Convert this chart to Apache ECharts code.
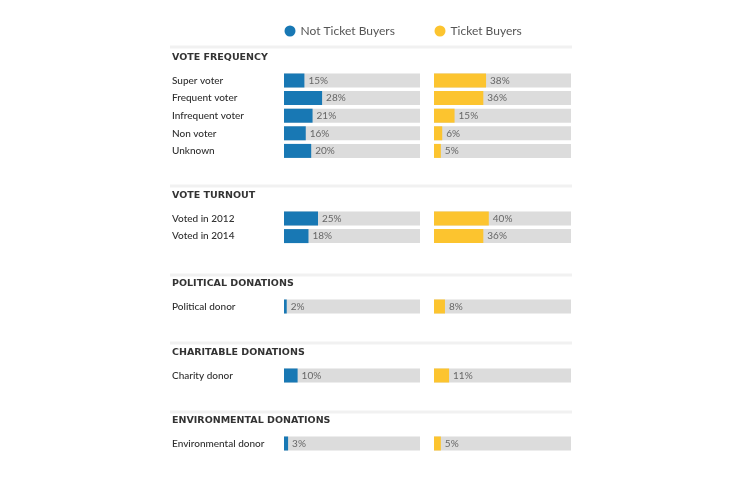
<!DOCTYPE html>
<html>
<head>
<meta charset="utf-8">
<script src="https://cdn.jsdelivr.net/npm/echarts@6/dist/echarts.min.js"></script>
<style>html,body{margin:0;padding:0;background:#fff;}#c{width:750px;height:479px;}</style>
</head>
<body>
<div id="c"></div>
<script>
// ---- data ----
const legendNames = ['Not Ticket Buyers', 'Ticket Buyers'];
const sectionTitles = ['VOTE FREQUENCY', 'VOTE TURNOUT', 'POLITICAL DONATIONS', 'CHARITABLE DONATIONS', 'ENVIRONMENTAL DONATIONS'];

const freqCats = ['Super voter', 'Frequent voter', 'Infrequent voter', 'Non voter', 'Unknown'];
const freqNotBuyers = [15, 28, 21, 16, 20];
const freqBuyers = [38, 36, 15, 6, 5];

const turnoutCats = ['Voted in 2012', 'Voted in 2014'];
const turnoutNotBuyers = [25, 18];
const turnoutBuyers = [40, 36];

const politicalCats = ['Political donor'];
const politicalNotBuyers = [2];
const politicalBuyers = [8];

const charityCats = ['Charity donor'];
const charityNotBuyers = [10];
const charityBuyers = [11];

const envCats = ['Environmental donor'];
const envNotBuyers = [3];
const envBuyers = [5];

const groups = [
  [freqCats, freqNotBuyers, freqBuyers],
  [turnoutCats, turnoutNotBuyers, turnoutBuyers],
  [politicalCats, politicalNotBuyers, politicalBuyers],
  [charityCats, charityNotBuyers, charityBuyers],
  [envCats, envNotBuyers, envBuyers]
];

// ---- layout ----
const BLUE = '#1878b4', YELLOW = '#fcc42f', TRACK = '#dcdcdc';
const rowH = 17.6;
const firstRowY = [80.5, 218.5, 306.5, 375.5, 443.5];
const headerY = [57.5, 196, 284, 353, 421];
const lineY = [47, 186, 275, 343, 412];
const leftX = 284, leftW = 136, rightX = 434, rightW = 137, labelX = 172;

const grids = [], xAxes = [], yAxes = [], series = [], graphics = [];
groups.forEach((g, gi) => {
  const [cats, notB, buy] = g;
  const top = firstRowY[gi] - rowH / 2;
  const h = cats.length * rowH;
  [[notB, leftX, leftW, BLUE, legendNames[0], true], [buy, rightX, rightW, YELLOW, legendNames[1], false]].forEach(s => {
    const [vals, x, w, color, name, showCat] = s;
    const idx = grids.length;
    grids.push({left: x, top: top, width: w, height: h});
    xAxes.push({type: 'value', gridIndex: idx, min: 0, max: 100, show: false});
    yAxes.push({
      type: 'category', gridIndex: idx, data: cats, inverse: true,
      axisLine: {show: false}, axisTick: {show: false}, splitLine: {show: false},
      axisLabel: {show: showCat, align: 'left', margin: x - labelX, color: '#2f2f2f',
        fontSize: 10, fontFamily: 'Lato', fontWeight: 500}
    });
    series.push({
      type: 'bar', name: name, xAxisIndex: idx, yAxisIndex: idx, data: vals,
      barWidth: 14, itemStyle: {color: color},
      showBackground: true, backgroundStyle: {color: TRACK},
      label: {show: true, position: 'right', distance: 4, formatter: '{c}%',
        color: '#666', fontSize: 10, fontFamily: 'Lato'},
      silent: true, animation: false
    });
  });
  graphics.push({type: 'rect', shape: {x: 170, y: lineY[gi] - 1.5, width: 402, height: 3},
    style: {fill: '#f1f1f1'}, silent: true});
  graphics.push({type: 'text', x: labelX, y: headerY[gi], style: {text: sectionTitles[gi],
    fill: '#333', font: 'bold 9.5px "DejaVu Sans"', textVerticalAlign: 'middle'}});
});

const chart = echarts.init(document.getElementById('c'));
const legendCommon = {icon: 'circle', itemWidth: 11, itemHeight: 11, padding: 0, top: 25,
  textStyle: {color: '#555', fontSize: 12, fontFamily: 'Lato'}, selectedMode: false};
chart.setOption({
  animation: false,
  legend: [
    Object.assign({data: [legendNames[0]], left: 284.5}, legendCommon),
    Object.assign({data: [legendNames[1]], left: 434.5}, legendCommon)
  ],
  grid: grids, xAxis: xAxes, yAxis: yAxes, series: series, graphic: graphics
});
</script>
</body>
</html>
